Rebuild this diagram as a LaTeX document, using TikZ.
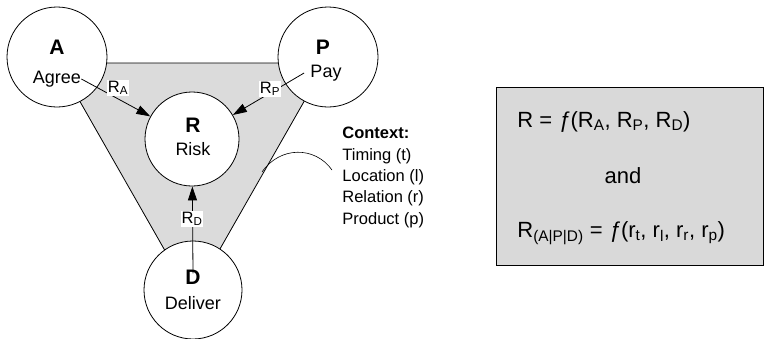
\documentclass[tikz,border=0pt]{standalone}
\usepackage{fontspec}
\setmainfont{Liberation Sans}
\usetikzlibrary{arrows.meta}

\begin{document}
\begin{tikzpicture}[x=1pt,y=-1pt,line width=0.8pt,
  party/.style={draw,circle,fill=white,inner sep=0pt},
  big/.style={font=\fontsize{18}{20}\selectfont,inner sep=0pt},
  bigb/.style={font=\fontsize{21}{22}\selectfont\bfseries,inner sep=0pt},
  rlabel/.style={fill=white,inner sep=1pt,font=\fontsize{16.5}{18}\selectfont},
  flow/.style={-{Triangle[length=14pt,width=9pt]}},
  eqn/.style={font=\fontsize{22}{24}\selectfont,inner sep=0pt}]
  \useasboundingbox (0,0) rectangle (764,338);
  % shaded context triangle
  \coordinate (tl) at (58,63);
  \coordinate (tr) at (326,63);
  \coordinate (tb) at (192,298);
  \draw[fill=black!14] (tl) -- (tr) -- (tb) -- cycle;
  % the four circles
  \node[party,minimum size=100pt] (A) at (57,57) {};
  \node[party,minimum size=100pt] (P) at (328,57) {};
  \node[party,minimum size=94pt] (R) at (192,139) {};
  \node[party,minimum size=98pt] (D) at (193,290) {};
  \node[bigb] (Ab) at (57,47) {A};
  \node[big] (At) at (57,79) {Agree};
  \node[bigb] (Pb) at (323,47) {P};
  \node[big] (Pt) at (326,73) {Pay};
  \node[bigb] (Rb) at (193,125) {R};
  \node[big] (Rt) at (193,149) {Risk};
  \node[bigb] (Db) at (193,277) {D};
  \node[big] (Dt) at (193,303) {Deliver};
  % risk flows into R
  \draw[flow] (At.east) -- (R);
  \draw[flow] ([xshift=-6pt]Pt.west) -- (R);
  \draw[flow] ([yshift=-4pt]Db.north) -- (R);
  \node[rlabel] (RA) at (118,88) {R\textsubscript{A}};
  \node[rlabel] (RP) at (270,89) {R\textsubscript{P}};
  \node[rlabel] (RD) at (192,219) {R\textsubscript{D}};
  % context list
  \coordinate (c1) at (262,172);
  \coordinate (c2) at (332,170);
  \draw[line width=0.6pt] (c1) .. controls (280,146) and (315,146) .. (c2);
  \node[anchor=north west,inner sep=0pt,align=left,
        font=\fontsize{16.5}{21.3}\selectfont] (ctx) at (342,127)
    {\textbf{Context:}\\Timing (t)\\Location (l)\\Relation (r)\\Product (p)};
  % formula box
  \node[draw,fill=black!15,line width=1pt,minimum width=267pt,
        minimum height=178pt,inner sep=0pt] (box) at (629.5,176) {};
  \node[eqn,anchor=base west] (eq1) at (517,127)
    {R = \textit{ƒ}(R\textsubscript{A}, R\textsubscript{P}, R\textsubscript{D})};
  \node[eqn,anchor=base] (and) at (623,183) {and};
  \node[eqn,anchor=base west] (eq2) at (517,237)
    {R\textsubscript{(A|P|D)} = \textit{ƒ}(r\textsubscript{t}, r\textsubscript{l}, r\textsubscript{r}, r\textsubscript{p})};
\end{tikzpicture}
\end{document}
